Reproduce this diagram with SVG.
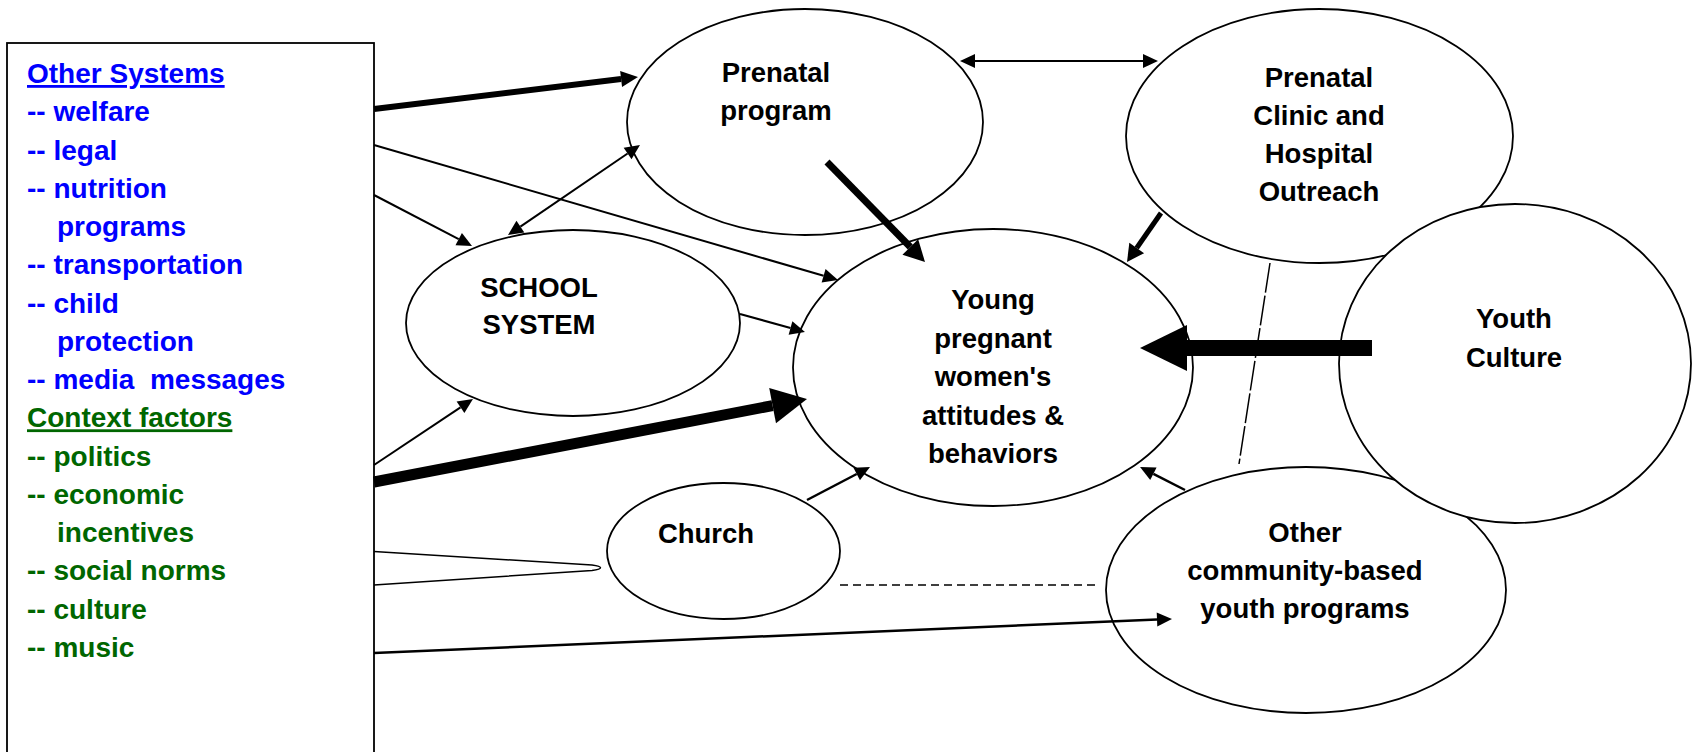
<svg xmlns="http://www.w3.org/2000/svg" width="1696" height="752" viewBox="0 0 1696 752">
  <style>
    .node { fill: #ffffff; stroke: #000000; stroke-width: 1.8; }
    .lbl { font-family: "Liberation Sans", Arial, sans-serif; font-weight: bold; font-size: 27.5px; fill: #000000; text-anchor: middle; }
    .side { font-family: "Liberation Sans", Arial, sans-serif; font-weight: bold; font-size: 28px; }
    .blue { fill: #0000ff; }
    .green { fill: #006600; }
    .ul { text-decoration: underline; }
    .cn { fill: none; stroke: #000000; stroke-linecap: butt; }
  </style>
  <defs>
    <marker id="a-sm" markerUnits="userSpaceOnUse" viewBox="0 0 15 14" markerWidth="15" markerHeight="14" refX="0" refY="7" orient="auto-start-reverse" overflow="visible">
      <path d="M0,0 L15,7 L0,14 Z" fill="#000"/>
    </marker>
    <marker id="a-md" markerUnits="userSpaceOnUse" viewBox="0 0 17 16" markerWidth="17" markerHeight="16" refX="0" refY="8" orient="auto" overflow="visible">
      <path d="M0,0 L17,8 L0,16 Z" fill="#000"/>
    </marker>
    <marker id="a-md2" markerUnits="userSpaceOnUse" viewBox="0 0 21 22" markerWidth="21" markerHeight="22" refX="0" refY="11" orient="auto" overflow="visible">
      <path d="M0,0 L21,11 L0,22 Z" fill="#000"/>
    </marker>
    <marker id="a-cl" markerUnits="userSpaceOnUse" viewBox="0 0 17 18" markerWidth="17" markerHeight="18" refX="0" refY="9" orient="auto" overflow="visible">
      <path d="M0,0 L17,9 L0,18 Z" fill="#000"/>
    </marker>
    <marker id="a-lg" markerUnits="userSpaceOnUse" viewBox="0 0 35 36" markerWidth="35" markerHeight="36" refX="0" refY="18" orient="auto" overflow="visible">
      <path d="M0,0 L35,18 L0,36 Z" fill="#000"/>
    </marker>
    <marker id="a-xl" markerUnits="userSpaceOnUse" viewBox="0 0 47 46" markerWidth="47" markerHeight="46" refX="0" refY="23" orient="auto" overflow="visible">
      <path d="M0,0 L47,23 L0,46 Z" fill="#000"/>
    </marker>
  </defs>

  <rect width="1696" height="752" fill="#ffffff"/>

  <!-- Left box -->
  <g id="systems-box">
    <rect x="7" y="43" width="367" height="730" fill="#ffffff" stroke="#000000" stroke-width="1.8"/>
    <text class="side blue ul" x="27" y="83">Other Systems</text>
    <text class="side blue" x="27" y="121.3">-- welfare</text>
    <text class="side blue" x="27" y="159.5">-- legal</text>
    <text class="side blue" x="27" y="197.8">-- nutrition</text>
    <text class="side blue" x="57" y="236">programs</text>
    <text class="side blue" x="27" y="274.3">-- transportation</text>
    <text class="side blue" x="27" y="312.5">-- child</text>
    <text class="side blue" x="57" y="350.8">protection</text>
    <text class="side blue" x="27" y="389" style="white-space:pre">-- media  messages</text>
    <text class="side green ul" x="27" y="427.3">Context factors</text>
    <text class="side green" x="27" y="465.5">-- politics</text>
    <text class="side green" x="27" y="503.8">-- economic</text>
    <text class="side green" x="57" y="542">incentives</text>
    <text class="side green" x="27" y="580.3">-- social norms</text>
    <text class="side green" x="27" y="618.5">-- culture</text>
    <text class="side green" x="27" y="656.8">-- music</text>
  </g>

  <g id="prenatal-program">
    <ellipse class="node" cx="805" cy="122" rx="178" ry="113"/>
    <text class="lbl" x="776" y="82">Prenatal</text>
    <text class="lbl" x="776" y="120">program</text>
  </g>

  <g id="school-system">
    <ellipse class="node" cx="573" cy="323" rx="167" ry="93"/>
    <text class="lbl" x="539" y="297">SCHOOL</text>
    <text class="lbl" x="539" y="334">SYSTEM</text>
  </g>

  <g id="young-women">
    <ellipse class="node" cx="993" cy="367.5" rx="200" ry="138.5"/>
    <text class="lbl" x="993" y="309">Young</text>
    <text class="lbl" x="993" y="347.5">pregnant</text>
    <text class="lbl" x="993" y="386">women's</text>
    <text class="lbl" x="993" y="424.5">attitudes &amp;</text>
    <text class="lbl" x="993" y="463">behaviors</text>
  </g>

  <g id="church">
    <ellipse class="node" cx="723.5" cy="551" rx="116.5" ry="68"/>
    <text class="lbl" x="706" y="543">Church</text>
  </g>

  <g id="clinic">
    <ellipse class="node" cx="1319.5" cy="136" rx="193.5" ry="127"/>
    <text class="lbl" x="1319" y="87">Prenatal</text>
    <text class="lbl" x="1319" y="125">Clinic and</text>
    <text class="lbl" x="1319" y="163">Hospital</text>
    <text class="lbl" x="1319" y="201">Outreach</text>
  </g>

  <g id="other-programs">
    <ellipse class="node" cx="1306" cy="590" rx="200" ry="123"/>
    <text class="lbl" x="1305" y="542">Other</text>
    <text class="lbl" x="1305" y="580">community-based</text>
    <text class="lbl" x="1305" y="618">youth programs</text>
  </g>

  <g id="youth-culture">
    <ellipse class="node" cx="1515" cy="363.5" rx="176" ry="159.5"/>
    <text class="lbl" x="1514" y="328">Youth</text>
    <text class="lbl" x="1514" y="367">Culture</text>
  </g>

  <!-- Connectors -->
  <g id="connectors">
    <line class="cn" x1="374" y1="109" x2="621.1" y2="79" stroke-width="6" marker-end="url(#a-md)"/>
    <line class="cn" x1="374" y1="145" x2="823.6" y2="275.8" stroke-width="2" marker-end="url(#a-sm)"/>
    <line class="cn" x1="374" y1="195" x2="458.7" y2="239.1" stroke-width="2" marker-end="url(#a-sm)"/>
    <line class="cn" x1="374" y1="465" x2="460.5" y2="407.3" stroke-width="2" marker-end="url(#a-sm)"/>
    <line class="cn" x1="520.4" y1="226.6" x2="627.6" y2="153.5" stroke-width="2" marker-start="url(#a-sm)" marker-end="url(#a-sm)"/>
    <line class="cn" x1="740" y1="314" x2="790.5" y2="328" stroke-width="2" marker-end="url(#a-sm)"/>
    <line class="cn" x1="374" y1="482" x2="772.6" y2="405.6" stroke-width="11" marker-end="url(#a-lg)"/>
    <line class="cn" x1="827" y1="162" x2="910.3" y2="247" stroke-width="7" marker-end="url(#a-md2)"/>
    <line class="cn" x1="1161" y1="213" x2="1136.7" y2="248" stroke-width="5" marker-end="url(#a-cl)"/>
    <line class="cn" x1="1372" y1="348" x2="1187" y2="348" stroke-width="16" marker-end="url(#a-xl)"/>
    <line class="cn" x1="807" y1="500" x2="856.7" y2="474" stroke-width="2.5" marker-end="url(#a-sm)"/>
    <line class="cn" x1="1185" y1="490" x2="1153.4" y2="473.8" stroke-width="2.5" marker-end="url(#a-sm)"/>
    <line class="cn" x1="374" y1="653" x2="1157" y2="619.6" stroke-width="2.5" marker-end="url(#a-sm)"/>
    <line class="cn" x1="975" y1="61" x2="1143" y2="61" stroke-width="2" marker-start="url(#a-sm)" marker-end="url(#a-sm)"/>
    <line class="cn" x1="840" y1="585" x2="1100" y2="585" stroke-width="1.5" stroke-dasharray="8 5"/>
    <line class="cn" x1="1270" y1="263" x2="1239" y2="464" stroke-width="1.5" stroke-dasharray="30 3"/>
    <path class="cn" d="M374,551.5 L592,565 Q609,567.5 592,570.5 L374,585" stroke-width="1.5"/>
  </g>
</svg>
